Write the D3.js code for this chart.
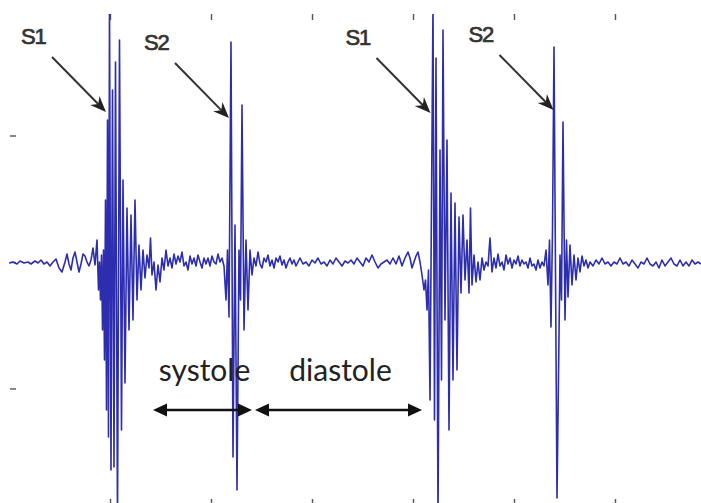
<!DOCTYPE html>
<html><head><meta charset="utf-8">
<script src="https://cdn.jsdelivr.net/npm/d3@7"></script>
<style>html,body{margin:0;padding:0;background:#fff;}svg{display:block;}</style>
</head><body>
<svg id="chart" width="701" height="503"></svg>
<script>
// ---- data ----
const FS = 202;      // samples per second
const GAIN = 253;    // ADC counts per amplitude unit
const xTicks = [0.5, 1.0, 1.5, 2.0, 2.5, 3.0];
const yTicks = [-0.5, 0, 0.5];

const segPre = [[0,-1],[4,0],[8,-2],[11,1],[15,-1],[19,0],[22,-2],[26,1],[29,-1],[32,2],[35,-2],[38,0],[41,-4],[44,0],[47,3],[50,-6],[53,-10],[56,0],[58,8],[60,-2],[62,-8],[64,4],[66,10],[68,0],[70,-10],[72,-2],[74,8],[76,6],[78,0],[80,-4],[82,2],[84,14],[86,-3],[88,22]];
const burstS1a = [[89.5,-28],[90.5,0],[91.5,-38],[92.5,7],[93.5,-68],[94.5,12],[95.5,-98],[96.5,62],[97.5,-148],[98.5,142],[99.5,-175],[100.5,257],[102,-208],[103.5,172],[105,-205],[106.5,200],[108.5,-258],[110.5,222],[112.5,-168],[114,82],[116,-121],[118,54],[120,-68],[122,47],[124,-58],[126,62],[128,-38],[130,17],[132,-28],[134,12],[136,-16],[138,7],[140,-6],[141.5,24],[143,-13]];
const segSys1 = [[145,0],[147,-28],[149,-3],[151,-20],[153,4],[155,-8],[157,12],[159,-4],[161,4],[163,-6],[165,8],[167,-2],[169,6],[171,0],[173,10],[175,-4],[177,0],[179,-8],[181,6],[183,-2],[185,4],[187,-4],[189,7],[191,0],[193,-6],[195,4],[197,-2],[199,4],[201,-4],[203,6],[205,0],[207,-2],[209,8],[211,0],[213,4],[215,-4]];
const burstS2a = [[217,-38],[218.5,12],[220,-55],[222,220],[224,-195],[226,37],[228,-228],[230,12],[231.5,-38],[233,157],[235,-68],[237,22],[239,-48],[241,12],[243,-13]];
const segDia1 = [[245,4],[247,-4],[249,10],[251,-2],[253,-6],[255,4],[257,0],[259,7],[261,-4],[263,2],[265,-6],[267,4],[269,0],[271,6],[273,-3],[275,2],[277,-6],[279,0],[281,4],[283,-2],[285,2],[287,-4],[289,0],[291,4],[294,-2],[297,0],[300,-4],[303,2],[306,-1],[309,4],[312,-2],[315,0],[318,-4],[321,2],[324,-2],[327,4],[330,0],[333,-4],[336,1],[339,-1],[342,2],[345,-2],[348,4],[351,0],[354,-4],[357,4],[360,0],[363,7],[366,0],[369,-6],[372,-2],[375,0],[378,2],[381,-2],[384,4],[387,-2],[390,6],[393,-4],[396,4],[399,10],[401,4],[403,-6],[405,0],[407,6],[409,10],[411,0],[413,-13]];
const burstS1b = [[415,-28],[416.5,-18],[418,-48],[419.5,-8],[421,-138],[424,257],[425.5,-158],[427,204],[429,-258],[431,112],[432.5,-118],[434,232],[436,-58],[438,122],[440,-168],[442,69],[444,-118],[446,59],[448,-108],[450,45],[452,-31],[454,47],[456,-18],[458,22],[460,-31],[461.5,54],[463,-23],[465,7],[467,-20]];
const segSys2 = [[469,0],[471,-18],[473,4],[475,-8],[477,0],[479,-4],[481,24],[483,-10],[485,4],[487,-6],[489,8],[491,-4],[493,0],[495,-8],[497,7],[499,-2],[501,4],[503,-6],[505,2],[507,-2],[509,6],[511,-4],[513,2],[515,-2],[517,0],[519,-6],[521,4],[523,-4],[525,-2],[527,-8],[529,2],[531,-6],[533,0],[535,-4]];
const burstS2b = [[537,12],[539,-23],[540.5,22],[542,-65],[543.5,32],[545,215],[548,-236],[551,7],[552.5,-38],[554,140],[556,-58],[557.5,22],[559,-35],[561,17],[563,-23],[565,7],[567,-18]];
const segPost = [[569,4],[571,-10],[573,6],[575,-4],[577,2],[579,-6],[581,0],[584,-4],[587,2],[590,-2],[593,4],[596,-2],[599,0],[602,-4],[605,0],[608,-2],[611,4],[614,-2],[617,0],[620,-4],[623,2],[626,-2],[629,-6],[632,0],[635,-2],[638,4],[641,-2],[644,-4],[647,0],[650,-6],[653,2],[656,-4],[659,0],[662,4],[665,-2],[668,-4],[671,2],[674,-4],[677,0],[680,-4],[683,2],[686,-2],[689,0],[692,-2]];

// annotations (sample index, amplitude of arrow tip)
const soundLabels = ["S1", "S2", "S1", "S2"];
const soundTipIdx = [97, 220, 421.5, 544.5];
const soundTipAmp = [0.593, 0.569, 0.589, 0.601];
const phaseLabels = ["systole", "diastole"];
const phaseStartIdx = [144, 246];
const phaseEndIdx = [243, 413];

// ---- layout ----
const svg = d3.select("#chart");
const W = 701, H = 503;
const pLeft = 9, pRight = 701, pTop = 14, pBottom = 505;
const x = d3.scaleLinear().domain([0, 692 / FS]).range([pLeft, pRight]);
const y = d3.scaleLinear().domain([-1, 1]).range([515, 9]);

svg.append("rect").attr("width", W).attr("height", H).attr("fill", "#fff");

svg.append("defs").append("clipPath").attr("id", "clip")
  .append("rect").attr("x", pLeft).attr("y", pTop).attr("width", pRight - pLeft).attr("height", pBottom - pTop);

// ticks (no axis lines, no labels)
function styleAxis(g) {
  g.select(".domain").remove();
  g.selectAll(".tick line").attr("stroke", "#555").attr("stroke-width", 1.4);
  g.selectAll(".tick text").remove();
}
svg.append("g").attr("transform", `translate(0,${pTop})`)
  .call(d3.axisTop(x).tickValues(xTicks).tickSize(-6)).call(styleAxis);
svg.append("g").attr("transform", `translate(0,${pBottom})`)
  .call(d3.axisBottom(x).tickValues(xTicks).tickSize(-6)).call(styleAxis);
svg.append("g").attr("transform", `translate(${pLeft + 1},0)`)
  .call(d3.axisLeft(y).tickValues(yTicks).tickSize(-6)).call(styleAxis);

// signal
const pcg = [].concat(segPre, burstS1a, segSys1, burstS2a, segDia1, burstS1b, segSys2, burstS2b, segPost);
const line = d3.line().x(d => x(d[0] / FS)).y(d => y(d[1] / GAIN));
svg.append("g").attr("clip-path", "url(#clip)")
  .append("path").datum(pcg)
  .attr("d", line).attr("fill", "none")
  .attr("stroke", "#2d2db0").attr("stroke-width", 1.6).attr("stroke-linejoin", "round");

// S1 / S2 labels with arrows
function barbHead(g, tx, ty, ang, len, half, notch, fill) {
  const c = Math.cos(ang), s = Math.sin(ang);
  const pt = (u, v) => [tx + u * c - v * s, ty + u * s + v * c];
  const pts = [pt(0, 0), pt(-len, -half), pt(-len + notch, 0), pt(-len, half)];
  g.append("path").attr("d", "M" + pts.map(p => p.join(",")).join("L") + "Z").attr("fill", fill);
}
const ann = svg.append("g");
soundLabels.forEach((lab, i) => {
  const tx = x(soundTipIdx[i] / FS), ty = y(soundTipAmp[i]);
  const sx = tx - 54, sy = ty - 55;
  const ang = Math.atan2(ty - sy, tx - sx);
  ann.append("line").attr("x1", sx).attr("y1", sy)
    .attr("x2", tx - 8 * Math.cos(ang)).attr("y2", ty - 8 * Math.sin(ang))
    .attr("stroke", "#333").attr("stroke-width", 2);
  barbHead(ann, tx, ty, ang, 16, 6.5, 5, "#222");
  ann.append("text").attr("x", tx - 85).attr("y", ty - 68)
    .attr("font-family", "Liberation Sans, Arial, sans-serif").attr("font-size", 22)
    .attr("letter-spacing", -1.2).attr("fill", "#333")
    .attr("stroke", "#333").attr("stroke-width", 0.7).text(lab);
});

// systole / diastole double arrows
const ay = y(-0.585);
phaseLabels.forEach((lab, i) => {
  const x0 = x(phaseStartIdx[i] / FS), x1 = x(phaseEndIdx[i] / FS);
  ann.append("line").attr("x1", x0 + 6).attr("x2", x1 - 6).attr("y1", ay).attr("y2", ay)
    .attr("stroke", "#111").attr("stroke-width", 2.4);
  barbHead(ann, x1, ay, 0, 14, 6.5, 0, "#111");
  barbHead(ann, x0, ay, Math.PI, 14, 6.5, 0, "#111");
  ann.append("text").attr("x", (x0 + x1) / 2 + 2).attr("y", y(-0.47))
    .attr("text-anchor", "middle")
    .attr("font-family", "Lato, Open Sans, sans-serif").attr("font-size", 30)
    .attr("fill", "#222").text(lab);
});
</script>
</body></html>
